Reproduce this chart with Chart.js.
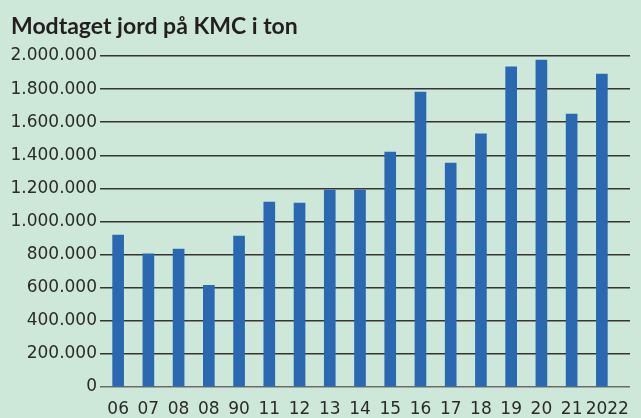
<!DOCTYPE html>
<html>
<head>
<meta charset="utf-8">
<script src="https://cdn.jsdelivr.net/npm/chart.js@4/dist/chart.umd.min.js"></script>
<style>
  html, body { margin: 0; padding: 0; background: #cde8d8; }
  #wrap { width: 641px; height: 418px; }
</style>
</head>
<body>
<div id="wrap"><canvas id="c" width="641" height="418"></canvas></div>
<script>
const titleText = 'Modtaget jord på KMC i ton';
const categories = ['06','07','08','08','90','11','12','13','14','15','16','17','18','19','20','21','  2022'];
const tonnes = [918000, 804000, 834000, 614000, 912000, 1118000, 1112000, 1190000, 1190000, 1420000, 1782000, 1353000, 1529000, 1934000, 1976000, 1649000, 1891000];
const yTicks = [0, 200000, 400000, 600000, 800000, 1000000, 1200000, 1400000, 1600000, 1800000, 2000000];

const fmt = v => String(v).replace(/\B(?=(\d{3})+(?!\d))/g, '.');

new Chart(document.getElementById('c'), {
  type: 'bar',
  data: {
    datasets: [{
      data: tonnes.map((v, i) => ({ x: i, y: v })),
      backgroundColor: '#2b68b2',
      borderWidth: 0,
      barThickness: 11
    }]
  },
  options: {
    responsive: false,
    animation: false,
    layout: { padding: { left: 11, right: 2, top: 13, bottom: 0 } },
    plugins: {
      legend: { display: false },
      tooltip: { enabled: false },
      title: {
        display: true,
        text: titleText,
        align: 'start',
        color: '#231f20',
        font: { family: 'Lato', weight: 'bold', size: 23 },
        padding: { top: 0, bottom: 15.4 }
      }
    },
    scales: {
      x: {
        type: 'linear',
        offset: false,
        min: -0.6,
        max: 16.93,
        afterBuildTicks: s => { s.ticks = categories.map((_, i) => ({ value: i })); },
        afterFit: s => { s.height = 31; },
        grid: { display: false, drawTicks: false },
        border: { display: false },
        ticks: {
          autoSkip: false,
          maxRotation: 0,
          padding: 12,
          color: '#2b2b2b',
          font: { family: 'DejaVu Sans', size: 17 },
          callback: v => categories[v]
        }
      },
      y: {
        min: 0,
        max: 2000000,
        afterBuildTicks: s => { s.ticks = yTicks.map(v => ({ value: v })); },
        afterFit: s => { s.width = 89; },
        grid: {
          color: ctx => ctx.tick && ctx.tick.value === 0 ? '#6a6a6a' : '#353535',
          lineWidth: 1.5,
          drawTicks: false
        },
        border: { display: false },
        ticks: {
          padding: 3,
          color: '#2b2b2b',
          font: { family: 'DejaVu Sans', size: 17 },
          callback: v => fmt(v)
        }
      }
    }
  },
  plugins: [{
    id: 'bg',
    beforeDraw: c => {
      const ctx = c.ctx;
      ctx.save();
      ctx.fillStyle = '#cde8d8';
      ctx.fillRect(0, 0, c.width, c.height);
      ctx.restore();
    }
  }]
});
</script>
</body>
</html>
